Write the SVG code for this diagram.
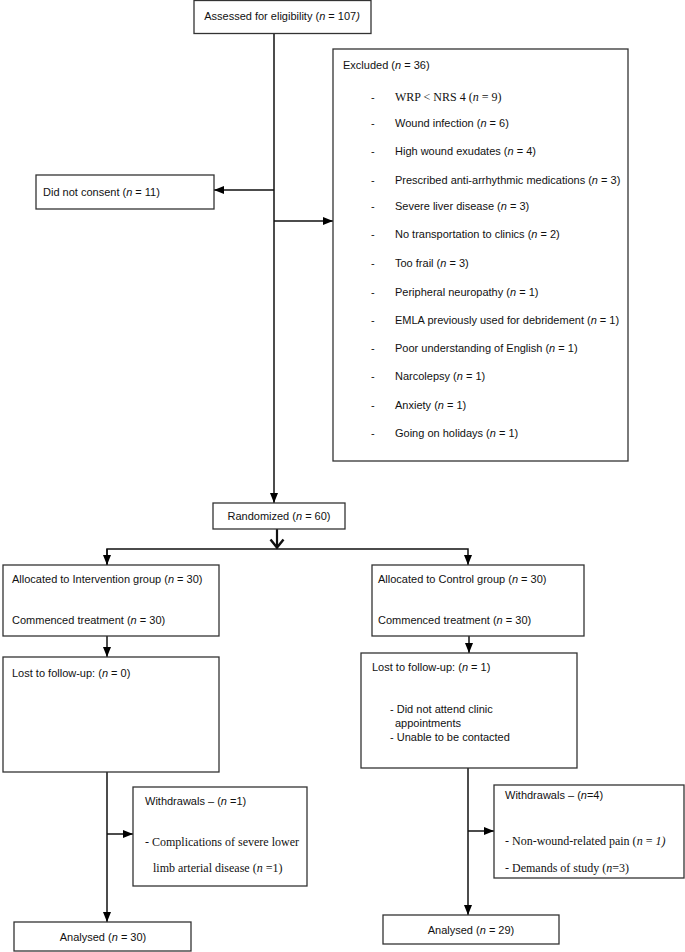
<svg xmlns="http://www.w3.org/2000/svg" width="685" height="952" viewBox="0 0 685 952">
<defs>
<marker id="ah" markerUnits="userSpaceOnUse" markerWidth="10" markerHeight="10" viewBox="0 0 10 10" refX="10" refY="5" orient="auto">
<path d="M0,1 L10,5 L0,9 Z" fill="#000"/>
</marker>
</defs>
<style>
.box{fill:#fff;stroke:#333;stroke-width:1.3}
.ln{fill:none;stroke:#111;stroke-width:1.5}
.s{font-family:"Liberation Sans",Arial,sans-serif;font-size:11px;fill:#111}
.r{font-family:"Liberation Serif","Times New Roman",serif;font-size:12px;fill:#111}
.m{text-anchor:middle}
</style>
<rect width="685" height="952" fill="#fff"/>
<g id="connectors">
<line class="ln" x1="274" y1="33" x2="274" y2="503" marker-end="url(#ah)"/>
<line class="ln" x1="274" y1="190" x2="214" y2="190" marker-end="url(#ah)"/>
<line class="ln" x1="274" y1="221" x2="333" y2="221" marker-end="url(#ah)"/>
<line class="ln" x1="277" y1="529" x2="277" y2="547" style="stroke-width:2.2"/>
<polyline class="ln" points="270.5,539.5 277,547.5 283.5,539.5" style="stroke-width:2.4"/>
<polyline class="ln" points="107,565 107,549 468,549 468,565" marker-end="url(#ah)"/>
<line class="ln" x1="107" y1="549" x2="107" y2="565" marker-end="url(#ah)"/>
<line class="ln" x1="107" y1="636" x2="107" y2="657" marker-end="url(#ah)"/>
<line class="ln" x1="469" y1="636" x2="469" y2="653" marker-end="url(#ah)"/>
<line class="ln" x1="107" y1="772" x2="107" y2="922" marker-end="url(#ah)"/>
<line class="ln" x1="107" y1="834" x2="133" y2="834" marker-end="url(#ah)"/>
<line class="ln" x1="468" y1="768" x2="468" y2="915" marker-end="url(#ah)"/>
<line class="ln" x1="468" y1="831" x2="494" y2="831" marker-end="url(#ah)"/>
</g>
<g id="assessed">
<rect class="box" x="194" y="0.5" width="177" height="33"/>
<text class="s m" x="282" y="20">Assessed for eligibility (<tspan font-style="italic">n</tspan> = 107<tspan font-style="italic">)</tspan></text>
</g>
<g id="notconsent">
<rect class="box" x="36" y="175" width="178" height="34"/>
<text class="s" x="43" y="196">Did not consent (<tspan font-style="italic">n</tspan> = 11)</text>
</g>
<g id="excluded">
<rect class="box" x="333" y="49" width="295" height="412"/>
<text class="s" x="343" y="69">Excluded (<tspan font-style="italic">n</tspan> = 36)</text>
<g class="s">
<text x="371" y="101">-</text>
<text x="371" y="127">-</text>
<text x="371" y="155">-</text>
<text x="371" y="184">-</text>
<text x="371" y="210">-</text>
<text x="371" y="238">-</text>
<text x="371" y="267">-</text>
<text x="371" y="296">-</text>
<text x="371" y="324">-</text>
<text x="371" y="352">-</text>
<text x="371" y="380">-</text>
<text x="371" y="409">-</text>
<text x="371" y="437">-</text>
</g>
<text class="r" x="395" y="101">WRP &lt; NRS 4 (<tspan font-style="italic">n</tspan> = 9)</text>
<text class="s" x="395" y="127">Wound infection (<tspan font-style="italic">n</tspan> = 6)</text>
<text class="s" x="395" y="155">High wound exudates (<tspan font-style="italic">n</tspan> = 4)</text>
<text class="s" x="395" y="184">Prescribed anti-arrhythmic medications (<tspan font-style="italic">n</tspan> = 3)</text>
<text class="s" x="395" y="210">Severe liver disease (<tspan font-style="italic">n</tspan> = 3)</text>
<text class="s" x="395" y="238">No transportation to clinics (<tspan font-style="italic">n</tspan> = 2)</text>
<text class="s" x="395" y="267">Too frail (<tspan font-style="italic">n</tspan> = 3)</text>
<text class="s" x="395" y="296">Peripheral neuropathy (<tspan font-style="italic">n</tspan> = 1)</text>
<text class="s" x="395" y="324">EMLA previously used for debridement (<tspan font-style="italic">n</tspan> = 1)</text>
<text class="s" x="395" y="352">Poor understanding of English (<tspan font-style="italic">n</tspan> = 1)</text>
<text class="s" x="395" y="380">Narcolepsy (<tspan font-style="italic">n</tspan> = 1)</text>
<text class="s" x="395" y="409">Anxiety (<tspan font-style="italic">n</tspan> = 1)</text>
<text class="s" x="395" y="437">Going on holidays (<tspan font-style="italic">n</tspan> = 1)</text>
</g>
<g id="randomized">
<rect class="box" x="213" y="503" width="132" height="26"/>
<text class="s m" x="279" y="520">Randomized (<tspan font-style="italic">n</tspan> = 60)</text>
</g>
<g id="intervention">
<rect class="box" x="3" y="565" width="216" height="71"/>
<text class="s" x="12" y="583">Allocated to Intervention group (<tspan font-style="italic">n</tspan> = 30)</text>
<text class="s" x="12" y="624">Commenced treatment (<tspan font-style="italic">n</tspan> = 30)</text>
</g>
<g id="lost-int">
<rect class="box" x="3" y="657" width="216" height="115"/>
<text class="s" x="12" y="677">Lost to follow-up: (<tspan font-style="italic">n</tspan> = 0)</text>
</g>
<g id="withdraw-int">
<rect class="box" x="133" y="787" width="174" height="99"/>
<text class="s" x="145" y="805">Withdrawals – (<tspan font-style="italic">n</tspan> =1)</text>
<text class="r" x="145" y="846">- Complications of severe lower</text>
<text class="r" x="153" y="872">limb arterial disease (<tspan font-style="italic">n</tspan> =1)</text>
</g>
<g id="analysed-int">
<rect class="box" x="14" y="922" width="177" height="29"/>
<text class="s m" x="103" y="941">Analysed (<tspan font-style="italic">n</tspan> = 30)</text>
</g>
<g id="control">
<rect class="box" x="372" y="565" width="212" height="71"/>
<text class="s" x="378" y="583">Allocated to Control group (<tspan font-style="italic">n</tspan> = 30)</text>
<text class="s" x="378" y="624">Commenced treatment (<tspan font-style="italic">n</tspan> = 30)</text>
</g>
<g id="lost-ctrl">
<rect class="box" x="361" y="653" width="216" height="115"/>
<text class="s" x="372" y="671">Lost to follow-up: (<tspan font-style="italic">n</tspan> = 1)</text>
<text class="s" x="390" y="713">- Did not attend clinic</text>
<text class="s" x="395" y="727">appointments</text>
<text class="s" x="390" y="741">- Unable to be contacted</text>
</g>
<g id="withdraw-ctrl">
<rect class="box" x="494" y="785" width="190" height="93"/>
<text class="s" x="505" y="799">Withdrawals – (<tspan font-style="italic">n</tspan>=4)</text>
<text class="r" x="505" y="845">-  Non-wound-related pain (<tspan font-style="italic">n</tspan> = <tspan font-style="italic">1)</tspan></text>
<text class="r" x="505" y="872">-  Demands of study (<tspan font-style="italic">n</tspan>=3)</text>
</g>
<g id="analysed-ctrl">
<rect class="box" x="383" y="915" width="176" height="29"/>
<text class="s m" x="471" y="934">Analysed (<tspan font-style="italic">n</tspan> = 29)</text>
</g>
</svg>
